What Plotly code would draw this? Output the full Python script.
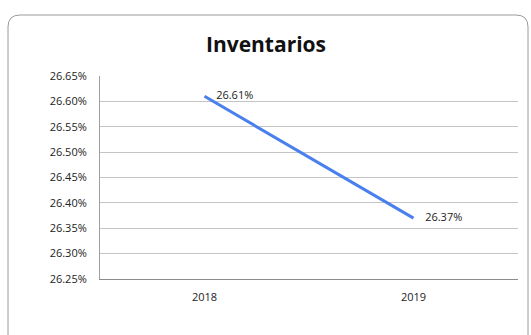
import plotly.graph_objects as go

years = ["2018", "2019"]
values = [0.2661, 0.2637]
labels = ["26.61%", "26.37%"]
title = "Inventarios"

W, H = 531, 335
L, R, T, B = 100, 13, 76, 56
pw, ph = W - L - R, H - T - B

def px(x):
    return (x - L) / pw

def py(y):
    return (H - B - y) / ph

FONT = "Open Sans, Liberation Sans, sans-serif"

fig = go.Figure()
fig.add_trace(go.Scatter(
    x=years, y=values, mode="lines",
    line=dict(color="#4A80EE", width=3),
    hoverinfo="skip", showlegend=False,
))
fig.add_trace(go.Scatter(
    x=years, y=values, mode="markers+text",
    marker=dict(size=17, color="rgba(0,0,0,0)"),
    text=labels, textposition="middle right",
    textfont=dict(family=FONT, size=11, color="#222"),
    hoverinfo="skip", showlegend=False, cliponaxis=False,
))

# rounded chart border
x0, y0, x1, y1, r = 8, 15, 528, 350, 12
path = (f"M {px(x0)},{py(y0 + r)} "
        f"Q {px(x0)},{py(y0)} {px(x0 + r)},{py(y0)} "
        f"L {px(x1 - r)},{py(y0)} "
        f"Q {px(x1)},{py(y0)} {px(x1)},{py(y0 + r)} "
        f"L {px(x1)},{py(y1 - r)} "
        f"Q {px(x1)},{py(y1)} {px(x1 - r)},{py(y1)} "
        f"L {px(x0 + r)},{py(y1)} "
        f"Q {px(x0)},{py(y1)} {px(x0)},{py(y1 - r)} Z")
fig.add_shape(type="path", path=path, xref="paper", yref="paper",
              line=dict(color="#9a9a9a", width=1), layer="below")

fig.update_layout(
    width=W, height=H,
    margin=dict(l=L, r=R, t=T, b=B),
    paper_bgcolor="white", plot_bgcolor="white",
    title=dict(text="<b>" + title + "</b>", x=266 / W, xanchor="center",
               y=1 - 45 / H, yanchor="middle",
               font=dict(family=FONT, size=21, color="#111")),
    font=dict(family=FONT, size=11, color="#222"),
)
fig.update_xaxes(type="category", showgrid=False, showline=True, linecolor="#8c8c8c",
                 linewidth=1, ticks="", ticklabelstandoff=8, range=[-0.5, 1.5],
                 fixedrange=True)
fig.update_yaxes(range=[0.2625, 0.2665], dtick=0.0005, tick0=0.2625, tickformat=".2%",
                 showgrid=True, gridcolor="#c4c4c4", gridwidth=1,
                 showline=True, linecolor="#a0a0a0", linewidth=1,
                 ticks="", ticklabelstandoff=10, zeroline=False, fixedrange=True)

fig.write_html("out.html")
